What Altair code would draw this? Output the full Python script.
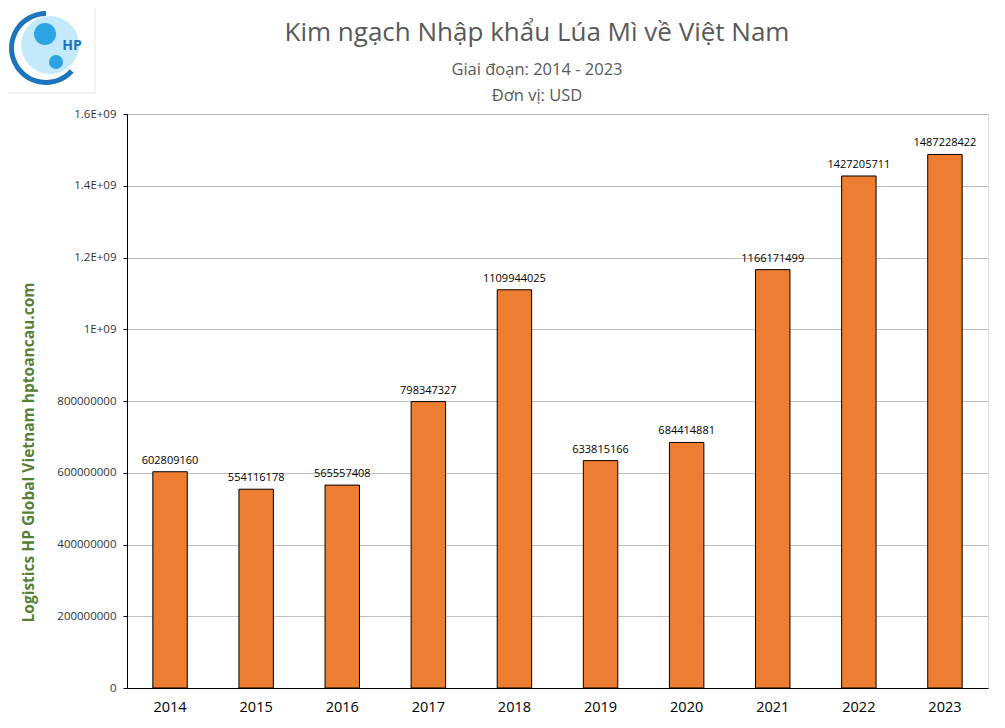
import altair as alt
import pandas as pd

years = ["2014", "2015", "2016", "2017", "2018", "2019", "2020", "2021", "2022", "2023"]
values = [602809160, 554116178, 565557408, 798347327, 1109944025, 633815166,
          684414881, 1166171499, 1427205711, 1487228422]
y_ticks = [0, 200000000, 400000000, 600000000, 800000000, 1000000000,
           1200000000, 1400000000, 1600000000]
title_text = "Kim ngạch Nhập khẩu Lúa Mì về Việt Nam"
subtitle_lines = ["Giai đoạn: 2014 - 2023", "Đơn vị: USD"]

df = pd.DataFrame({"year": years, "value": values})
FONT = "Open Sans"

x_enc = alt.X("year:N", title=None, sort=years,
              scale=alt.Scale(paddingInner=0.6, paddingOuter=0.3),
              axis=alt.Axis(labelAngle=0, labelFontSize=14.5, labelColor="#000000",
                            labelFont=FONT, ticks=False, labelPadding=12,
                            domainColor="#000000", domainWidth=1, grid=False))
y_enc = alt.Y("value:Q",
              scale=alt.Scale(domain=[0, 1600000000], nice=False),
              axis=alt.Axis(values=y_ticks,
                            labelExpr="datum.value >= 1000000000 ? (datum.value/1000000000) + 'E+09' : format(datum.value, 'd')",
                            labelFontSize=11.5, labelColor="#333333", labelFont=FONT,
                            tickSize=4, tickColor="#000000", labelPadding=7,
                            domainColor="#000000", domainWidth=1,
                            gridColor="#bfbfbf", gridWidth=1,
                            title="Logistics HP Global Vietnam hptoancau.com",
                            titleColor="#548235", titleFontSize=15.5, titleFont=FONT,
                            titleFontWeight="bold", titleAngle=-90,
                            titleX=-91, titleY=338, titleAlign="center",
                            titleBaseline="bottom"))

bars = alt.Chart(df).mark_bar(color="#ED7D31", stroke="#000000", strokeWidth=1).encode(
    x=x_enc, y=y_enc)
labels = alt.Chart(df).mark_text(baseline="bottom", dy=-6, fontSize=11, font=FONT,
                                 color="#000000").encode(
    x=alt.X("year:N", sort=years), y="value:Q",
    text=alt.Text("value:Q", format="d"))

one = alt.Data(values=[{"k": 1}])

title_mark = alt.Chart(one).mark_text(text=title_text, fontSize=26, font=FONT,
                                      color="#595959", align="center",
                                      baseline="middle").encode(
    x=alt.value(410), y=alt.value(-81))
sub1 = alt.Chart(one).mark_text(text=subtitle_lines[0], fontSize=16.5, font=FONT,
                                color="#595959", align="center",
                                baseline="middle").encode(
    x=alt.value(410), y=alt.value(-44))
sub2 = alt.Chart(one).mark_text(text=subtitle_lines[1], fontSize=16.5, font=FONT,
                                color="#595959", align="center",
                                baseline="middle").encode(
    x=alt.value(410), y=alt.value(-18))

logo_box = alt.Chart(one).mark_rect(fill="#ffffff", stroke="#e3e3e3", strokeWidth=1).encode(
    x=alt.value(-122), x2=alt.value(-32), y=alt.value(-110), y2=alt.value(-21))
logo_globe = alt.Chart(one).mark_arc(color="#c4e9fb").encode(
    x=alt.value(-77), y=alt.value(-69), theta=alt.value(0), theta2=alt.value(6.2832),
    radius=alt.value(29))
logo_land1 = alt.Chart(one).mark_arc(color="#2aa5e2").encode(
    x=alt.value(-82), y=alt.value(-80), theta=alt.value(0), theta2=alt.value(6.2832),
    radius=alt.value(11))
logo_land2 = alt.Chart(one).mark_arc(color="#2aa5e2").encode(
    x=alt.value(-71), y=alt.value(-52), theta=alt.value(0), theta2=alt.value(6.2832),
    radius=alt.value(7))
logo_ring = alt.Chart(one).mark_arc(color="#1c75bc").encode(
    x=alt.value(-81), y=alt.value(-66), theta=alt.value(2.3), theta2=alt.value(6.2832),
    radius=alt.value(37), radius2=alt.value(32))
logo_text = alt.Chart(one).mark_text(text="HP", fontSize=14, fontWeight="bold",
                                     font=FONT, color="#1c75bc").encode(
    x=alt.value(-55), y=alt.value(-68))

chart = alt.layer(logo_box, logo_globe, logo_land1, logo_land2, logo_ring, logo_text,
                  title_mark, sub1, sub2, bars, labels).properties(
    width=861, height=574,
    autosize=alt.AutoSizeParams(type="none"),
    padding={"left": 119, "top": 106, "right": 9, "bottom": 32},
).configure_view(stroke=None).configure(background="#ffffff")

chart.save("out.html", embed_options={"renderer": "svg", "actions": False})
